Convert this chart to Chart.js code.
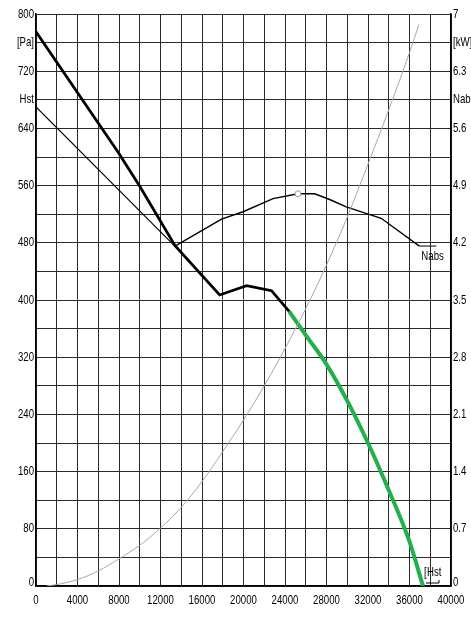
<!DOCTYPE html>
<html>
<head>
<meta charset="utf-8">
<script src="https://cdn.jsdelivr.net/npm/chart.js@4.4.0/dist/chart.umd.min.js"></script>
<style>
  html, body { margin: 0; padding: 0; background: #fff; }
  #wrap { width: 471px; height: 624px; position: relative; }
</style>
</head>
<body>
<div id="wrap"><canvas id="fanChart"></canvas></div>
<script>
// tick labels (one entry per grid step)
const flowTickLabels = ['0', '', '4000', '', '8000', '', '12000', '', '16000', '', '20000', '', '24000', '', '28000', '', '32000', '', '36000', '', '40000'];
const paTickLabels = ['0', '', '80', '', '160', '', '240', '', '320', '', '400', '', '480', '', '560', '', '640', 'Hst', '720', '[Pa]', '800'];
const kwTickLabels = ['0', '', '0.7', '', '1.4', '', '2.1', '', '2.8', '', '3.5', '', '4.2', '', '4.9', '', '5.6', 'Nab', '6.3', '[kW]', '7'];

// static pressure, thick black part
const hstFlow = [0, 7900, 10000, 13400, 17700, 20300, 22700, 24400];
const hstPa = [775, 607, 559, 476, 407, 420, 413, 384];

// thin Hst line
const hstThinFlow = [0, 13400];
const hstThinPa = [670, 475];

// working range (green)
const workFlow = [24400, 26000, 28000, 30000, 32000, 34000, 36000, 37300];
const workPa = [384, 351, 310, 259, 200, 134, 62, 0];

// absorbed power
const nabsFlow = [13400, 17880, 19960, 22850, 25250, 26860, 28300, 29900, 33270, 36950];
const nabsKw = [4.16, 4.49, 4.58, 4.74, 4.80, 4.80, 4.73, 4.64, 4.50, 4.16];

// system curve (grey)
const sysFlow = [1000, 2000, 4000, 6000, 8000, 10000, 12000, 14000, 16000, 18000, 20000, 22000, 24000, 26000, 28000, 30000, 32000, 34000, 36000, 36900];
const sysPa = [0, 2, 9, 21, 38, 57, 81, 110, 146, 188, 232, 280, 332, 388, 449, 516, 590, 666, 746, 785];

const pts = (xs, ys) => xs.map((x, i) => ({ x: x, y: ys[i] }));

const FONT = '13px "Liberation Sans", Arial, sans-serif';
const SQUEEZE = 0.74;
const GRID = '#2a2a2a';

// narrow text, like the condensed font of the original
function narrowText(ctx, text, x, y, align) {
    ctx.save();
    ctx.translate(x, y);
    ctx.scale(SQUEEZE, 1);
    ctx.textAlign = align;
    ctx.fillText(text, 0, 0);
    ctx.restore();
}

const axisText = {
    id: 'axisText',
    afterDraw(chart) {
        const ctx = chart.ctx;
        const x = chart.scales.x, y = chart.scales.y, y2 = chart.scales.y2;
        ctx.save();
        ctx.font = FONT;
        ctx.fillStyle = '#000';
        ctx.textBaseline = 'middle';
        flowTickLabels.forEach((t, i) => {
            if (t) narrowText(ctx, t, x.getPixelForValue(i * 2000), x.top + 14, 'center');
        });
        paTickLabels.forEach((t, i) => {
            if (t) narrowText(ctx, t, y.right - 2, Math.min(y.getPixelForValue(i * 40), y.bottom - 4), 'right');
        });
        kwTickLabels.forEach((t, i) => {
            if (t) narrowText(ctx, t, y2.left + 2, Math.min(y2.getPixelForValue(i * 0.35), y2.bottom - 4), 'left');
        });

        // Nabs label with leader
        ctx.strokeStyle = '#000';
        ctx.lineWidth = 1;
        const nx = x.getPixelForValue(nabsFlow[nabsFlow.length - 1]);
        const ny = y2.getPixelForValue(nabsKw[nabsKw.length - 1]);
        ctx.beginPath();
        ctx.moveTo(nx, ny);
        ctx.lineTo(nx + 17, ny);
        ctx.stroke();
        narrowText(ctx, 'Nabs', nx + 2, ny + 10, 'left');

        // Hst label at the end of the working range
        const hx = x.getPixelForValue(workFlow[workFlow.length - 1]);
        const hy = y.getPixelForValue(workPa[workPa.length - 1]);
        narrowText(ctx, '[', hx + 1, hy - 14, 'left');
        narrowText(ctx, 'Hst', hx + 4, hy - 14, 'left');
        ctx.beginPath();
        ctx.moveTo(hx + 3, hy - 3);
        ctx.lineTo(hx + 16, hy - 3);
        ctx.lineTo(hx + 16, hy - 6);
        ctx.stroke();
        ctx.restore();
    }
};

new Chart(document.getElementById('fanChart'), {
    type: 'line',
    data: {
        datasets: [
            {
                data: pts(sysFlow, sysPa),
                borderColor: '#a8a8a8',
                borderWidth: 1,
                pointRadius: 0,
                cubicInterpolationMode: 'monotone',
                yAxisID: 'y'
            },
            {
                data: pts(hstThinFlow, hstThinPa),
                borderColor: '#000',
                borderWidth: 1.2,
                pointRadius: 0,
                yAxisID: 'y'
            },
            {
                data: pts(nabsFlow, nabsKw),
                borderColor: '#000',
                borderWidth: 1.4,
                pointRadius: nabsFlow.map((f, i) => i === 4 ? 3 : 0),
                pointBackgroundColor: '#fff',
                pointBorderColor: '#999',
                pointBorderWidth: 1,
                yAxisID: 'y2'
            },
            {
                data: pts(hstFlow, hstPa),
                borderColor: '#000',
                borderWidth: 2.8,
                pointRadius: 0,
                yAxisID: 'y'
            },
            {
                data: pts(workFlow, workPa),
                borderColor: '#22b04b',
                borderWidth: 4,
                pointRadius: 0,
                cubicInterpolationMode: 'monotone',
                yAxisID: 'y'
            }
        ]
    },
    options: {
        responsive: true,
        maintainAspectRatio: false,
        animation: false,
        layout: { padding: { top: 14, left: 0, right: 0, bottom: 0 } },
        plugins: { legend: { display: false }, tooltip: { enabled: false } },
        scales: {
            x: {
                type: 'linear',
                min: 0,
                max: 40000,
                afterBuildTicks: s => { s.ticks = flowTickLabels.map((t, i) => ({ value: i * 2000 })); },
                afterFit: s => { s.height = 38; },
                ticks: { display: false },
                grid: { color: GRID, lineWidth: 1, drawTicks: false },
                border: { color: '#000', width: 1.5 }
            },
            y: {
                position: 'left',
                min: 0,
                max: 800,
                afterBuildTicks: s => { s.ticks = paTickLabels.map((t, i) => ({ value: i * 40 })); },
                afterFit: s => { s.width = 36; },
                ticks: { display: false },
                grid: { color: GRID, lineWidth: 1, drawTicks: false },
                border: { color: '#000', width: 1.5 }
            },
            y2: {
                position: 'right',
                min: 0,
                max: 7,
                afterBuildTicks: s => { s.ticks = kwTickLabels.map((t, i) => ({ value: i * 0.35 })); },
                afterFit: s => { s.width = 20; },
                ticks: { display: false },
                grid: { drawOnChartArea: false, drawTicks: false },
                border: { color: '#000', width: 1.5 }
            }
        }
    },
    plugins: [axisText]
});
</script>
</body>
</html>
